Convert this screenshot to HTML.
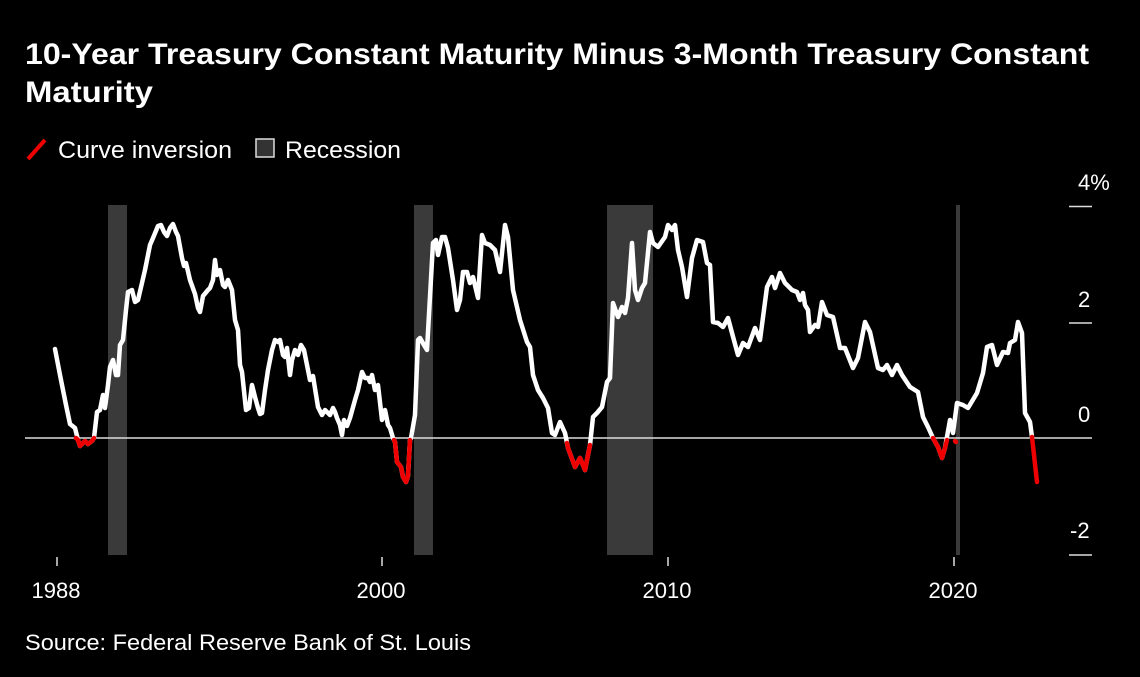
<!DOCTYPE html>
<html><head><meta charset="utf-8"><style>
html,body{margin:0;padding:0;background:#000;width:1140px;height:677px;overflow:hidden}
svg{display:block}
text{font-family:"Liberation Sans",Arial,sans-serif;fill:#fff}
</style></head><body>
<svg width="1140" height="677" viewBox="0 0 1140 677">
<text x="25" y="64" font-size="30" font-weight="bold" textLength="1064" lengthAdjust="spacingAndGlyphs">10-Year Treasury Constant Maturity Minus 3-Month Treasury Constant</text>
<text x="25" y="102" font-size="30" font-weight="bold" textLength="128" lengthAdjust="spacingAndGlyphs">Maturity</text>
<line x1="28" y1="159" x2="45" y2="140" stroke="#e00" stroke-width="4"/>
<text x="58" y="158" font-size="24" textLength="174" lengthAdjust="spacingAndGlyphs">Curve inversion</text>
<rect x="256" y="139" width="18" height="18" fill="#333" stroke="#ddd" stroke-width="1.5"/>
<text x="285" y="158" font-size="24" textLength="116" lengthAdjust="spacingAndGlyphs">Recession</text>
<g fill="#3a3a3a">
<rect x="108" y="205" width="19" height="350"/>
<rect x="414" y="205" width="19" height="350"/>
<rect x="607" y="205" width="46" height="350"/>
<rect x="956" y="205" width="4" height="350"/>
</g>
<line x1="25" y1="438" x2="1092" y2="438" stroke="#ddd" stroke-width="1.5"/>
<g stroke="#ddd" stroke-width="1.5">
<line x1="1069" y1="206.5" x2="1092" y2="206.5"/>
<line x1="1069" y1="323" x2="1092" y2="323"/>
<line x1="1069" y1="555" x2="1092" y2="555"/>
<line x1="57" y1="557" x2="57" y2="566"/>
<line x1="382" y1="557" x2="382" y2="566"/>
<line x1="668" y1="557" x2="668" y2="566"/>
<line x1="954" y1="557" x2="954" y2="566"/>
</g>
<g font-size="22">
<text x="1078" y="190">4%</text>
<text x="1078" y="307">2</text>
<text x="1078" y="422">0</text>
<text x="1070" y="538">-2</text>
</g>
<g font-size="22" text-anchor="middle">
<text x="56" y="598">1988</text>
<text x="381" y="598">2000</text>
<text x="667" y="598">2010</text>
<text x="953" y="598">2020</text>
</g>
<text x="25" y="650" font-size="22" textLength="446" lengthAdjust="spacingAndGlyphs">Source: Federal Reserve Bank of St. Louis</text>
<g fill="none" stroke-width="4.5" stroke-linejoin="round" stroke-linecap="round">
<polyline stroke="#fff" points="55,349 60,375 66,405 70,424 75,428 78,440 80,446 85,441 88,444 92,441 94,438 97,412 100,410 103,395 105,408 108,385 110,367 113,360 116,375 118,375 120,345 123,340 126,310 128,292 132,290 135,302 138,300 145,270 150,245 153,238 158,226 161,225 164,232 167,236 170,228 173,224 176,232 178,236 182,258 184,266 186,263 190,280 195,294 198,308 200,312 203,296 208,290 210,288 213,280 215,260 217,275 220,270 223,285 225,287 228,280 230,285 232,290 235,320 238,330 240,365 242,372 246,410 249,408 252,385 255,397 258,408 260,414 262,413 265,390 268,370 272,350 275,340 278,342 280,340 283,355 285,357 287,348 290,375 292,360 295,350 298,355 301,345 304,350 306,360 310,380 313,376 318,407 322,415 325,410 330,415 333,408 335,412 337,418 340,425 342,435 344,420 347,426 350,418 355,400 358,390 362,372 365,378 368,378 370,382 372,375 375,390 378,385 382,420 385,410 388,425 390,428 393,438 395,442 397,462 401,467 403,477 406,482 408,476 410,440 411,438 415,415 418,340 420,338 424,345 427,350 433,243 436,240 438,255 442,237 445,237 448,248 453,280 457,310 460,300 463,272 467,272 470,283 473,277 478,298 482,235 485,243 490,245 495,250 500,272 505,225 508,237 513,290 520,320 527,342 530,347 533,375 538,390 543,398 548,408 552,433 555,435 560,422 565,433 568,448 575,467 580,458 585,470 590,445 593,417 597,413 602,407 607,382 610,378 613,303 618,317 622,307 625,313 628,298 632,243 635,290 638,300 642,288 645,283 650,232 653,243 658,247 665,237 668,225 672,230 675,225 678,250 682,267 687,297 692,258 697,240 703,242 707,263 710,265 713,322 718,323 723,327 728,318 732,333 738,355 743,343 748,347 755,328 760,340 767,287 772,277 775,288 780,273 785,283 792,290 797,292 800,300 803,293 805,305 808,310 810,332 815,325 818,327 822,302 827,315 833,317 840,348 845,348 853,368 858,358 865,322 870,332 878,368 883,370 887,365 892,375 897,365 902,375 910,387 918,392 923,417 928,427 933,438 938,447 942,458 945,448 950,420 953,433 957,403 963,405 968,408 977,393 983,373 987,347 992,345 997,365 1003,352 1008,353 1010,343 1015,340 1018,322 1022,333 1025,413 1030,422 1032,437"/>
<polyline stroke="#e00" points="76,438 78,440 80,446 85,441 88,444 92,441 94,438"/>
<polyline stroke="#e00" points="394,440 395,442 397,462 401,467 403,477 406,482 408,476 410,440"/>
<polyline stroke="#e00" points="567,443 568,448 575,467 580,458 585,470 590,445"/>
<polyline stroke="#e00" points="933,438 938,447 942,458 945,448 947,440"/>
<polyline stroke="#e00" points="955,441 956,442"/>
<polyline stroke="#e00" points="1032,437 1037,482"/>
</g>
</svg>
</body></html>
